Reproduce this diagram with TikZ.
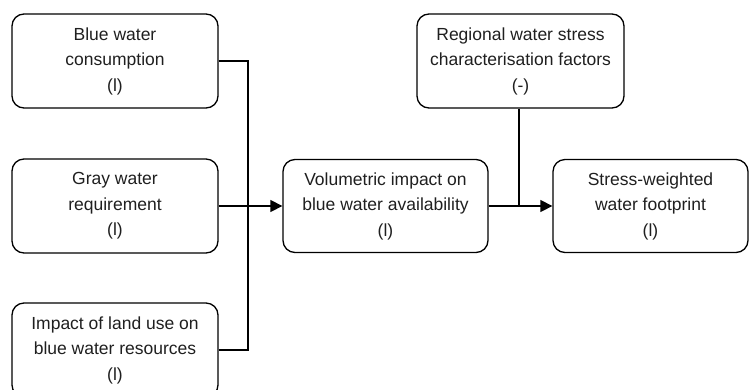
\documentclass[tikz,border=0pt]{standalone}
\usepackage{fontspec}
\setmainfont{Liberation Sans}
\usetikzlibrary{arrows.meta}
\tikzset{
  box/.style={draw=black, line width=1.3pt, rounded corners=12pt, align=center,
    inner sep=0pt, font=\fontsize{17.5}{25.5}\selectfont, text=black!88},
  conn/.style={line width=1.3pt},
  arr/.style={conn, -{Triangle[length=12pt,width=12pt]}}
}
\begin{document}
\begin{tikzpicture}[x=1pt,y=-1pt]
\useasboundingbox (0,0) rectangle (749,389);
\clip (0,0) rectangle (749,389);
\node[box, minimum width=206pt, minimum height=94pt] (b1) at (115,61) {Blue water\\consumption\\(l)};
\node[box, minimum width=206pt, minimum height=94pt] (b2) at (115,206) {Gray water\\requirement\\(l)};
\node[box, minimum width=206pt, minimum height=94pt] (b3) at (115,350) {Impact of land use on\\blue water resources\\(l)};
\node[box, minimum width=205pt, minimum height=93pt] (b4) at (385.5,206) {Volumetric impact on\\blue water availability\\(l)};
\node[box, minimum width=207pt, minimum height=94pt] (b5) at (520.5,61) {Regional water stress\\characterisation factors\\(-)};
\node[box, minimum width=195pt, minimum height=93pt] (b6) at (650.5,206) {Stress-weighted\\water footprint\\(l)};
\coordinate (j) at (248,206);
\coordinate (k) at (519,206);
\draw[conn] (b1.east) -| (j);
\draw[conn] (b3.east) -| (j);
\draw[arr] (b2.east) -- (b4.west);
\draw[conn] (b5.south -| k) -- (k);
\draw[arr] (b4.east) -- (b6.west);
\end{tikzpicture}
\end{document}
